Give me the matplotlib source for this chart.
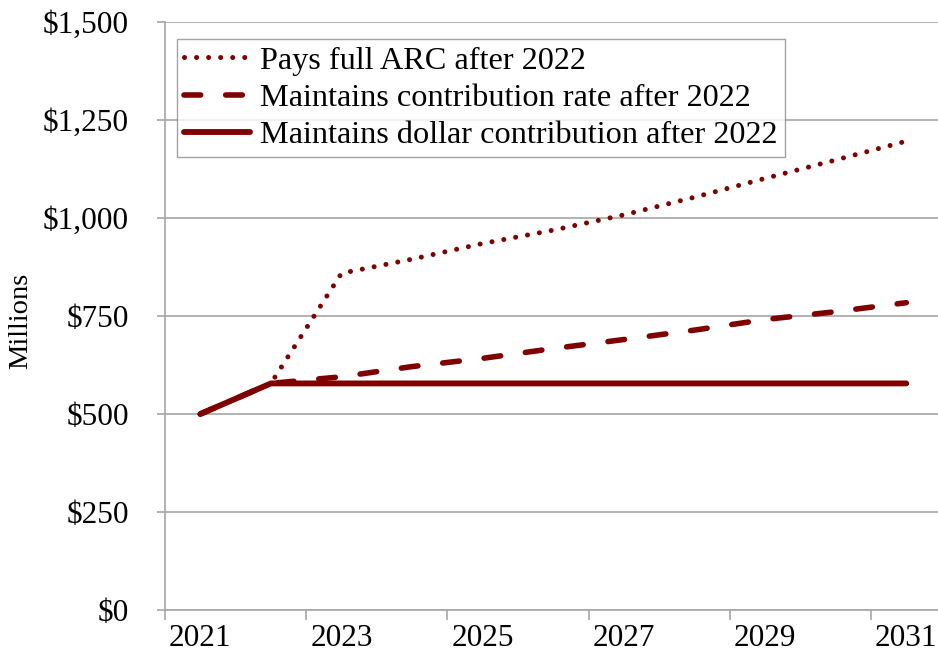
import matplotlib
matplotlib.use("Agg")
import matplotlib.pyplot as plt
from matplotlib.ticker import FuncFormatter, FixedLocator
import numpy as np

years = ["2021", "2022", "2023", "2024", "2025", "2026", "2027", "2028", "2029", "2030", "2031"]
full_arc = [500, 578, 859, 895, 935, 969, 1008, 1053, 1101, 1148, 1196]
contrib_rate = [500, 578, 595, 621, 642, 667, 690, 714, 741, 761, 784]
dollar_contrib = [500, 578, 578, 578, 578, 578, 578, 578, 578, 578, 578]
labels = ["Pays full ARC after 2022",
          "Maintains contribution rate after 2022",
          "Maintains dollar contribution after 2022"]
yticks = [0, 250, 500, 750, 1000, 1250, 1500]

plt.rcParams['font.family'] = ['Liberation Serif', 'DejaVu Serif']
FS = 22.5
color = '#800000'
grid_c = '#a6a6a6'

W, H = 938, 665
fig = plt.figure(figsize=(W / 100, H / 100), dpi=100)
ax = fig.add_axes([165 / W, (H - 610) / H, (941.6 - 165) / W, (610 - 22) / H])

x = np.arange(len(years))
ax.plot(x, full_arc, color=color, lw=3.6, linestyle=(0, (0.01, 2.4)),
        dash_capstyle='round', label=labels[0], zorder=3)
ax.plot(x, contrib_rate, color=color, lw=4.0, linestyle=(0, (3.0, 4.5)),
        dash_capstyle='round', label=labels[1], zorder=3)
ax.plot(x, dollar_contrib, color=color, lw=4.2, solid_capstyle='round',
        solid_joinstyle='round', label=labels[2], zorder=4)

ax.set_xlim(-0.5, len(years) - 0.5)
ax.set_ylim(0, 1500)
ax.set_yticks(yticks)
ax.yaxis.set_major_formatter(FuncFormatter(lambda v, p: "${:,.0f}".format(v)))
ax.grid(axis='y', color=grid_c, lw=1.2)
ax.set_axisbelow(True)

# x: tick marks between category pairs, labels on every other category
ax.xaxis.set_major_locator(FixedLocator(np.arange(-0.5, len(years), 2)))
ax.xaxis.set_minor_locator(FixedLocator(x[::2]))
ax.xaxis.set_major_formatter(FuncFormatter(lambda v, p: ""))
ax.xaxis.set_minor_formatter(FuncFormatter(lambda v, p: years[int(round(v))]))
ax.tick_params(axis='x', which='major', length=7, width=1.2, color=grid_c)
ax.tick_params(axis='x', which='minor', length=0, pad=10, labelsize=FS)
ax.tick_params(axis='y', which='major', length=6, width=1.2, color=grid_c,
               pad=20, labelsize=FS)

for s in ['top', 'right']:
    ax.spines[s].set_visible(False)
for s in ['left', 'bottom']:
    ax.spines[s].set_color(grid_c)
    ax.spines[s].set_linewidth(1.2)

fig.text(21 / W, (H - 321) / H, "Millions", rotation=90, fontsize=20.5,
         ha='center', va='center')

leg = ax.legend(loc='upper left', bbox_to_anchor=(177 / W, (H - 39) / H),
                bbox_transform=fig.transFigure, fontsize=23.2, frameon=True,
                fancybox=False, borderaxespad=0, borderpad=0.22,
                handlelength=2.05, handletextpad=0.32, labelspacing=0.24)
leg.get_frame().set_edgecolor('#8c8c8c')
leg.get_frame().set_linewidth(1.0)

fig.savefig("out.png", dpi=100)
